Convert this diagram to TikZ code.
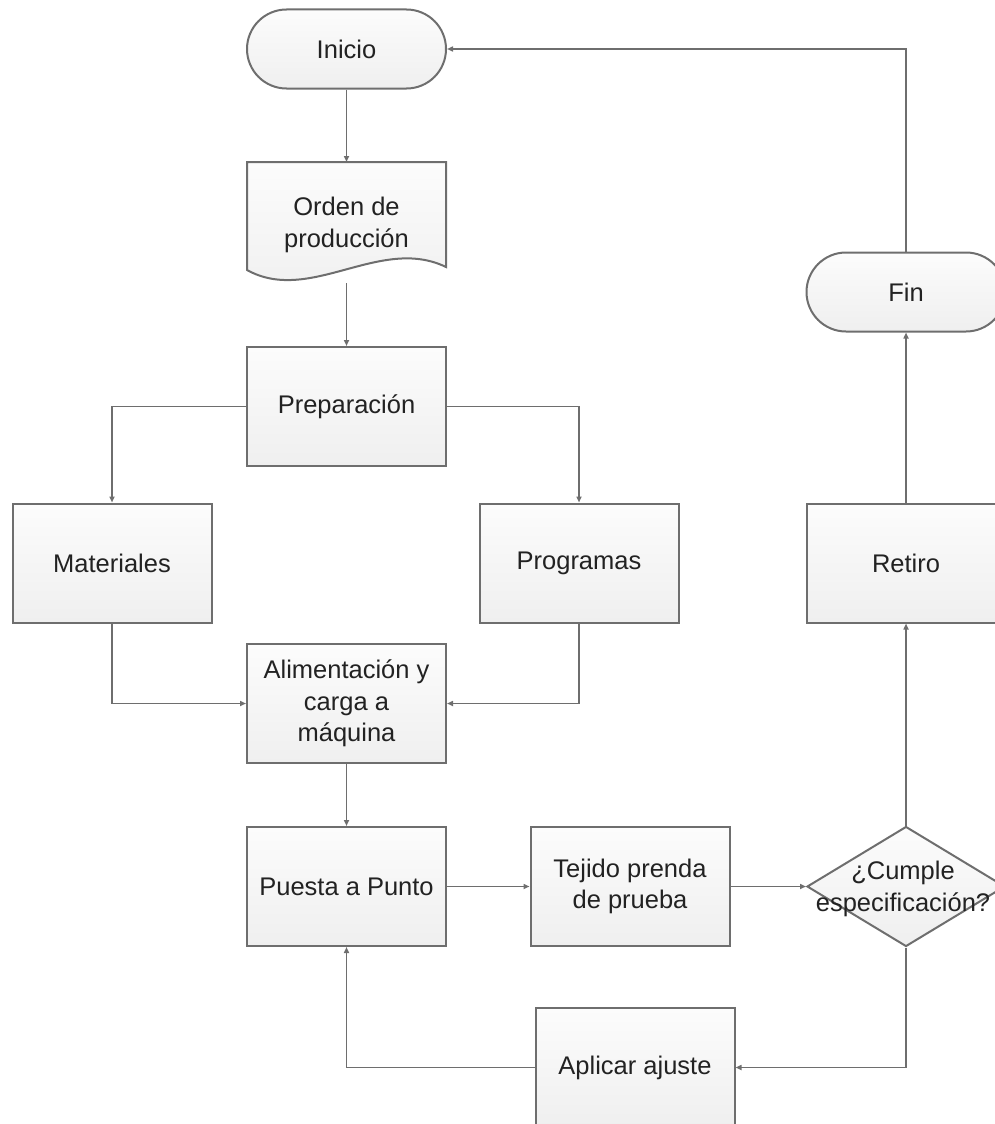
\documentclass[tikz,border=0pt]{standalone}
\usepackage{fontspec}
\setmainfont{Liberation Sans}
\usetikzlibrary{shapes.misc,shapes.geometric,arrows.meta}
\definecolor{edge}{HTML}{6E6E6E}
\definecolor{filltop}{HTML}{FCFCFC}
\definecolor{fillbot}{HTML}{EFEFEF}
\definecolor{txt}{HTML}{222222}
\begin{document}
\begin{tikzpicture}[x=1pt,y=-1pt,
  lbl/.style={inner sep=0pt,align=center,font=\fontsize{25.5}{31.5}\selectfont,text=txt},
  box/.style={lbl,draw=edge,line width=2pt,top color=filltop,bottom color=fillbot,minimum width=199pt,minimum height=119pt},
  term/.style={box,rounded rectangle,minimum height=79pt},
  conn/.style={draw=edge,line width=1.8pt,-{Triangle[length=6pt,width=5pt]}},
]
\useasboundingbox (0,0) rectangle (995,1124);
\clip (0,0) rectangle (995,1124);

% nodes
\node[term] (inicio) at (346.5,49) {Inicio};
\path[draw=edge,line width=2pt,top color=filltop,bottom color=fillbot]
  (247,162) -- (446,162) -- (446,267) .. controls (380,235) and (310,305) .. (247,270) -- cycle;
\node[lbl] (orden) at (346.5,225) {Orden de\\producción};
\coordinate (ordtop) at (346.5,162);
\coordinate (ordbot) at (346.5,283);
\node[box] (prep) at (346.5,406.5) {Preparación};
\node[box] (mat) at (112,563) {Materiales};
\node[box] (prog) at (579,563) {Programas};
\node[box] (alim) at (346.5,703.5) {Alimentación y\\carga a\\máquina};
\node[box] (puesta) at (346.5,886.5) {Puesta a Punto};
\node[box] (tej) at (630,886.5) {Tejido prenda\\de prueba};
\node[box,diamond,minimum width=198pt,minimum height=120pt] (dec) at (906,886.5) {};
\node[lbl] (dect) at (903,889) {¿Cumple\\especificación?};
\node[box] (apl) at (635,1067.5) {Aplicar ajuste};
\node[box] (ret) at (906,563) {Retiro};
\node[term] (fin) at (906,292) {Fin};

% connectors
\draw[conn] (inicio.south) -- (ordtop);
\draw[conn] (ordbot) -- (prep.north);
\draw[conn] (prep.west) -| (mat.north);
\draw[conn] (prep.east) -| (prog.north);
\draw[conn] (mat.south) |- (alim.west);
\draw[conn] (prog.south) |- (alim.east);
\draw[conn] (alim.south) -- (puesta.north);
\draw[conn] (puesta.east) -- (tej.west);
\draw[conn] (tej.east) -- (dec.west);
\draw[conn] (dec.south) |- (apl.east);
\draw[conn] (apl.west) -| (puesta.south);
\draw[conn] (dec.north) -- (ret.south);
\draw[conn] (ret.north) -- (fin.south);
\draw[conn] (fin.north) |- (inicio.east);
\end{tikzpicture}
\end{document}
